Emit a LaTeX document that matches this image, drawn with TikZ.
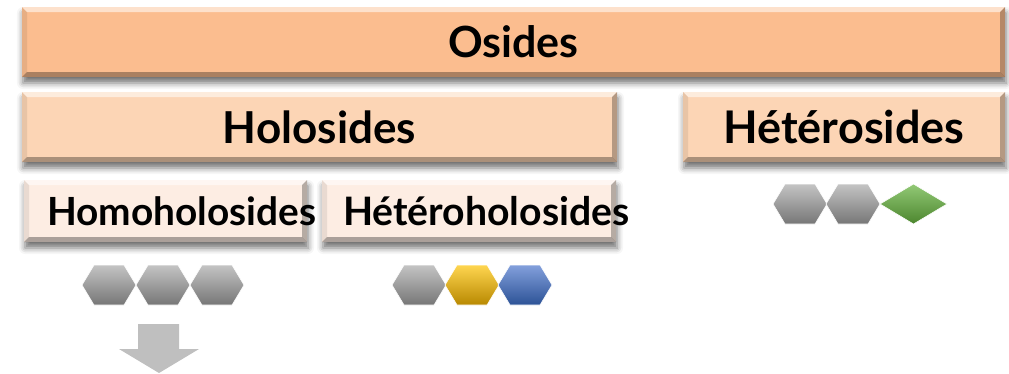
\documentclass[tikz,border=0pt]{standalone}
\usepackage{fontspec}
\setmainfont{Lato}
\usetikzlibrary{shadows.blur}

\definecolor{osidefill}{RGB}{251,189,143}
\definecolor{holofill}{RGB}{252,213,181}
\definecolor{homofill}{RGB}{253,237,227}
\definecolor{greytop}{RGB}{196,196,196}
\definecolor{greybot}{RGB}{118,118,118}
\definecolor{goldtop}{RGB}{255,214,80}
\definecolor{goldbot}{RGB}{184,136,0}
\definecolor{bluetop}{RGB}{131,160,220}
\definecolor{bluebot}{RGB}{44,82,150}
\definecolor{greentop}{RGB}{146,201,118}
\definecolor{greenbot}{RGB}{76,134,46}
\definecolor{arrowgrey}{RGB}{191,191,191}

\tikzset{
  bevelbox/.style={rectangle, fill=#1, inner sep=0pt, font=\bfseries,
    blur shadow={shadow xshift=1pt, shadow yshift=-6pt, shadow blur radius=6pt, shadow opacity=55},
    path picture={
      \coordinate (nw) at (path picture bounding box.north west);
      \coordinate (ne) at (path picture bounding box.north east);
      \coordinate (sw) at (path picture bounding box.south west);
      \coordinate (se) at (path picture bounding box.south east);
      \fill[white,opacity=.55] (nw) -- (ne) -- ([shift={(-5pt,-5pt)}]ne) -- ([shift={(5pt,-5pt)}]nw) -- cycle;
      \fill[black,opacity=.08] (nw) -- (sw) -- ([shift={(5pt,5pt)}]sw) -- ([shift={(5pt,-5pt)}]nw) -- cycle;
      \fill[black,opacity=.28] (ne) -- (se) -- ([shift={(-5pt,5pt)}]se) -- ([shift={(-5pt,-5pt)}]ne) -- cycle;
      \fill[black,opacity=.32] (sw) -- (se) -- ([shift={(-5pt,5pt)}]se) -- ([shift={(5pt,5pt)}]sw) -- cycle;
    }},
  boxlabel/.style={font=\bfseries\fontsize{#1}{#1}\selectfont, inner sep=0pt},
  hexpiece/.style={draw=white, line width=.6pt},
}

% hexagon: centre x, centre y, top colour, bottom colour
\newcommand{\hexa}[4]{%
  \path[hexpiece, top color=#3, bottom color=#4]
    (#1-27,#2) -- (#1-15,#2-20) -- (#1+15,#2-20) -- (#1+27,#2)
    -- (#1+15,#2+20) -- (#1-15,#2+20) -- cycle;}

\begin{document}
\begin{tikzpicture}[x=1pt,y=-1pt]
\useasboundingbox (0,0) rectangle (1009,373);

% boxes
\node[bevelbox=osidefill, minimum width=983pt, minimum height=70pt] (osides) at (513.5,42)
  {\fontsize{43}{43}\selectfont Osides};
\node[bevelbox=holofill, minimum width=595pt, minimum height=70pt] (holo) at (319.5,127)
  {\fontsize{44}{44}\selectfont Holosides};
\node[bevelbox=holofill, minimum width=322pt, minimum height=70pt] (hetero) at (844,127)
  {\fontsize{45}{45}\selectfont Hétérosides};
\node[bevelbox=homofill, minimum width=283pt, minimum height=62pt] (homoholo) at (165.5,211) {};
\node[bevelbox=homofill, minimum width=294pt, minimum height=62pt] (heteroholo) at (469,211) {};
\node[boxlabel=38.8, anchor=west] (homotext) at ([xshift=23pt]homoholo.west) {Homoholosides};
\node[boxlabel=39.2, anchor=west] (heterotext) at ([xshift=21pt]heteroholo.west) {Hétéroholosides};

% sugar chains
\hexa{109}{285}{greytop}{greybot}
\hexa{163}{285}{greytop}{greybot}
\hexa{217}{285}{greytop}{greybot}

\hexa{419}{285}{greytop}{greybot}
\hexa{472}{285}{goldtop}{goldbot}
\hexa{525}{285}{bluetop}{bluebot}

\hexa{800}{204}{greytop}{greybot}
\hexa{853}{204}{greytop}{greybot}
\path[hexpiece, top color=greentop, bottom color=greenbot]
  (880,204) -- (913.5,184) -- (947,204) -- (913.5,224) -- cycle;

% arrow
\fill[arrowgrey] (138,324) -- (179,324) -- (179,349) -- (199,349) -- (159,373)
  -- (119,349) -- (138,349) -- cycle;
\end{tikzpicture}
\end{document}
